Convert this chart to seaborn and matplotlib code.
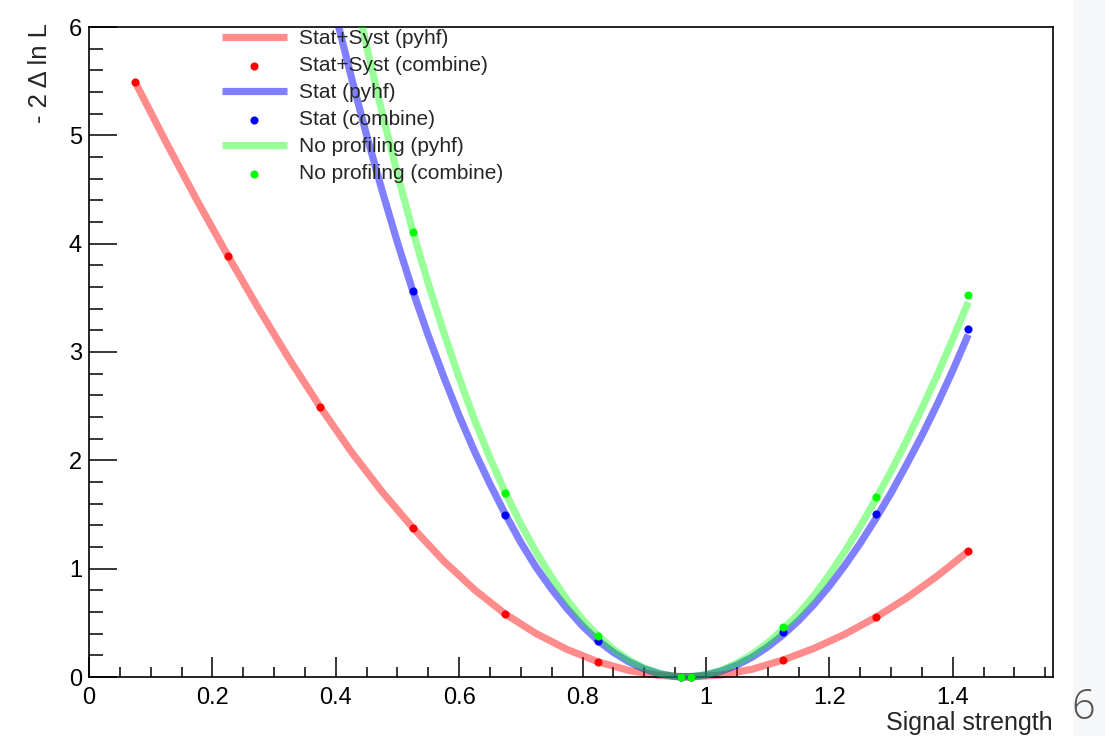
import numpy as np
import pandas as pd
import matplotlib
matplotlib.use("Agg")
import matplotlib.pyplot as plt
import seaborn as sns
from matplotlib.patches import Rectangle
from matplotlib.ticker import FixedLocator, FixedFormatter

# ---------------- data ----------------
mu_curve_statsyst = [0.075, 0.125, 0.175, 0.225, 0.275, 0.325, 0.375, 0.425, 0.475, 0.525,
                     0.575, 0.625, 0.675, 0.725, 0.775, 0.825, 0.875, 0.925, 0.975, 1.025,
                     1.075, 1.125, 1.175, 1.225, 1.275, 1.325, 1.375, 1.425]
nll_statsyst_pyhf = [5.49, 4.935, 4.40, 3.89, 3.40, 2.93, 2.49, 2.08, 1.71, 1.376,
                     1.07, 0.805, 0.58, 0.40, 0.254, 0.14, 0.06, 0.014, 0.0, 0.019,
                     0.072, 0.157, 0.264, 0.395, 0.55, 0.729, 0.933, 1.16]

mu_curve_stat = [0.375, 0.400, 0.425, 0.450, 0.475, 0.500, 0.525, 0.550, 0.575, 0.600,
                 0.625, 0.650, 0.675, 0.700, 0.725, 0.750, 0.775, 0.800, 0.825, 0.850,
                 0.875, 0.900, 0.925, 0.950, 0.975, 1.000, 1.025, 1.050, 1.075, 1.100,
                 1.125, 1.150, 1.175, 1.200, 1.225, 1.250, 1.275, 1.300, 1.325, 1.350,
                 1.375, 1.400, 1.425]
nll_stat_pyhf = [6.72, 6.11, 5.54, 5.00, 4.49, 4.01, 3.56, 3.15, 2.77, 2.41,
                 2.08, 1.78, 1.50, 1.24, 1.01, 0.81, 0.63, 0.47, 0.335, 0.227,
                 0.14, 0.075, 0.03, 0.004, 0.002, 0.019, 0.055, 0.11, 0.184, 0.278,
                 0.39, 0.52, 0.67, 0.84, 1.03, 1.235, 1.46, 1.70, 1.96, 2.23,
                 2.52, 2.83, 3.16]

mu_curve_noprof = [0.425, 0.450, 0.475, 0.500, 0.525, 0.550, 0.575, 0.600,
                   0.625, 0.650, 0.675, 0.700, 0.725, 0.750, 0.775, 0.800, 0.825, 0.850,
                   0.875, 0.900, 0.925, 0.950, 0.975, 1.000, 1.025, 1.050, 1.075, 1.100,
                   1.125, 1.150, 1.175, 1.200, 1.225, 1.250, 1.275, 1.300, 1.325, 1.350,
                   1.375, 1.400, 1.425]
nll_noprof_pyhf = [6.47, 5.82, 5.21, 4.64, 4.11, 3.63, 3.18, 2.76,
                   2.37, 2.02, 1.70, 1.41, 1.15, 0.92, 0.71, 0.53, 0.38, 0.256,
                   0.156, 0.082, 0.031, 0.005, 0.002, 0.02, 0.062, 0.126, 0.21, 0.315,
                   0.44, 0.583, 0.75, 0.945, 1.16, 1.39, 1.64, 1.90, 2.18, 2.48,
                   2.79, 3.12, 3.46]

mu_combine_statsyst = [0.075, 0.225, 0.375, 0.525, 0.675, 0.825, 0.96, 0.975, 1.125, 1.275, 1.425]
nll_statsyst_combine = [5.49, 3.89, 2.49, 1.376, 0.58, 0.14, 0.0, 0.0, 0.157, 0.55, 1.16]

mu_combine = [0.525, 0.675, 0.825, 0.96, 0.975, 1.125, 1.275, 1.425]
nll_stat_combine = [3.56, 1.50, 0.335, 0.0, 0.0, 0.415, 1.505, 3.21]
nll_noprof_combine = [4.11, 1.70, 0.38, 0.0, 0.0, 0.46, 1.66, 3.53]

series_labels = ["Stat+Syst (pyhf)", "Stat+Syst (combine)",
                 "Stat (pyhf)", "Stat (combine)",
                 "No profiling (pyhf)", "No profiling (combine)"]

x_tick_values = [0, 0.2, 0.4, 0.6, 0.8, 1.0, 1.2, 1.4]
x_tick_labels = ["0", "0.2", "0.4", "0.6", "0.8", "1", "1.2", "1.4"]
y_tick_values = [0, 1, 2, 3, 4, 5, 6]
y_tick_labels = ["0", "1", "2", "3", "4", "5", "6"]

# ---------------- style ----------------
sns.set_style("ticks")
plt.rcParams["font.family"] = ["Liberation Sans", "DejaVu Sans"]
plt.rcParams["lines.solid_capstyle"] = "butt"

W, H = 1105, 736
fig = plt.figure(figsize=(W / 100, H / 100), dpi=100)
fig.patch.set_facecolor("white")
fig.patches.append(Rectangle((1073 / W, 0), 1 - 1073 / W, 1, transform=fig.transFigure,
                             facecolor="#f6f7f8", edgecolor="none", zorder=-5))

ax = fig.add_axes([89 / W, 1 - 677 / H, (1053 - 89) / W, 650 / H])
ax.set_facecolor("white")

lw = 5.2
ms = 34

curves = [
    (mu_curve_statsyst, nll_statsyst_pyhf, "#ff0000", 0.45),
    (mu_curve_stat, nll_stat_pyhf, "#0000ff", 0.5),
    (mu_curve_noprof, nll_noprof_pyhf, "#00ff00", 0.4),
]
points = [
    (mu_combine_statsyst, nll_statsyst_combine, "#ff0000"),
    (mu_combine, nll_stat_combine, "#0000ff"),
    (mu_combine, nll_noprof_combine, "#00ff00"),
]

for i in range(3):
    cx, cy, col, al = curves[i]
    df_c = pd.DataFrame({"mu": cx, "nll": cy})
    n_before = len(ax.lines)
    sns.lineplot(data=df_c, x="mu", y="nll", ax=ax, color=col, alpha=al, linewidth=lw,
                 sort=False, estimator=None, label=series_labels[2 * i], zorder=2 + i)
    clip = Rectangle((0, -0.015), 1, 1.015, transform=ax.transAxes)
    for ln in ax.lines[n_before:]:
        ln.set_clip_path(clip)
    px, py, pcol = points[i]
    df_p = pd.DataFrame({"mu": px, "nll": py})
    sns.scatterplot(data=df_p, x="mu", y="nll", ax=ax, color=pcol, s=ms, linewidth=0,
                    label=series_labels[2 * i + 1], zorder=5 + i, clip_on=False)

ax.set_xlim(0, 1.5624)
ax.set_ylim(0, 6)

ax.xaxis.set_major_locator(FixedLocator(x_tick_values))
ax.xaxis.set_major_formatter(FixedFormatter(x_tick_labels))
ax.xaxis.set_minor_locator(FixedLocator(np.arange(0, 1.56, 0.05)))
ax.yaxis.set_major_locator(FixedLocator(y_tick_values))
ax.yaxis.set_major_formatter(FixedFormatter(y_tick_labels))
ax.yaxis.set_minor_locator(FixedLocator(np.arange(0, 6.0, 0.2)))

ax.tick_params(axis="x", which="major", direction="in", length=14.4, width=1.1,
               labelsize=17, pad=7, color="black", labelcolor="black")
ax.tick_params(axis="x", which="minor", direction="in", length=7.2, width=1.1, color="black")
ax.tick_params(axis="y", which="major", direction="in", length=20, width=1.1,
               labelsize=17, pad=5, color="black", labelcolor="black")
ax.tick_params(axis="y", which="minor", direction="in", length=10, width=1.1, color="black")

for sp in ax.spines.values():
    sp.set_visible(True)
    sp.set_color("black")
    sp.set_linewidth(1.2)

ax.set_xlabel("Signal strength", fontsize=18, loc="right")
ax.xaxis.set_label_coords(1.0, -0.071)
ax.xaxis.label.set_va("center")
ax.set_ylabel("- 2 Δ ln L", fontsize=18.5)
ax.yaxis.label.set_rotation_mode("default")
ax.yaxis.label.set_ha("center")
ax.yaxis.label.set_va("top")
ax.yaxis.set_label_coords((40 - 89) / 964, (677 - 23) / 650)

leg = ax.legend(loc="upper left", bbox_to_anchor=((222 - 89) / 964, (677 - 29) / 650),
                frameon=False, fontsize=15, handlelength=3.1, handletextpad=0.6,
                labelspacing=0.385, borderpad=0, borderaxespad=0, markerscale=1.0)

fig.text(1083 / W, 1 - 708 / H, "6", fontsize=30, color="#555555",
         family=["Open Sans", "DejaVu Sans"], fontweight="light", ha="center", va="center")

fig.savefig("out.png", dpi=100, facecolor=fig.get_facecolor())
